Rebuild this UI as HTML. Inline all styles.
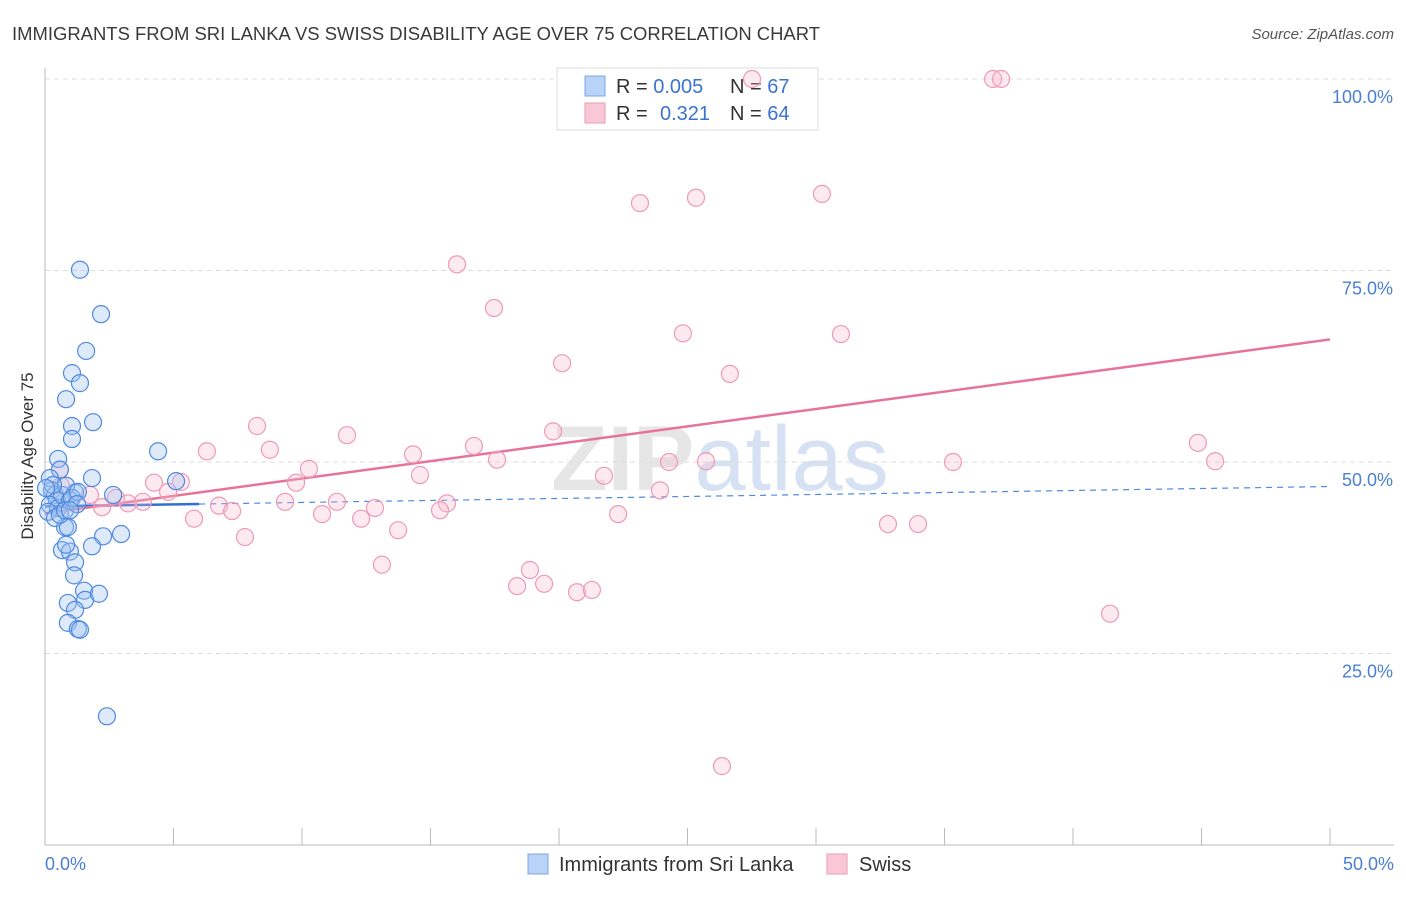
<!DOCTYPE html>
<html><head><meta charset="utf-8"><style>
body{margin:0;background:#fff;font-family:"Liberation Sans",sans-serif;}
svg text{font-family:"Liberation Sans",sans-serif;}
</style></head><body>
<svg id="chart" width="1406" height="892" xmlns="http://www.w3.org/2000/svg">
<text x="12" y="40" font-size="18" fill="#3a3a3a" textLength="808" lengthAdjust="spacingAndGlyphs">IMMIGRANTS FROM SRI LANKA VS SWISS DISABILITY AGE OVER 75 CORRELATION CHART</text>
<text x="1394" y="39" font-size="15" fill="#555" text-anchor="end" font-style="italic">Source: ZipAtlas.com</text>
<text x="720" y="490" font-size="92" fill="#e6e6e6" text-anchor="middle" font-family="Liberation Serif" font-weight="bold">ZIP<tspan fill="#d6e2f3" font-family="Liberation Sans" font-weight="normal">atlas</tspan></text>
<g id="grid"></g>
<g id="axes"></g>
<g>
<rect x="557" y="68" width="261" height="62" fill="#fff" stroke="#ddd"/>
<rect x="585" y="76" width="20" height="20" fill="#b8d3f5" stroke="#7aa8e8"/>
<rect x="585" y="103" width="20" height="20" fill="#f9c8d6" stroke="#ef9ab5"/>
<text x="616" y="93" font-size="20" fill="#333">R = <tspan fill="#3b73d1">0.005</tspan><tspan x="730">N = </tspan><tspan fill="#3b73d1">67</tspan></text>
<text x="616" y="120" font-size="20" fill="#333">R = <tspan fill="#3b73d1" x="660">0.321</tspan><tspan x="730">N = </tspan><tspan fill="#3b73d1">64</tspan></text>
</g>
<g id="trends"></g>
<g id="points"></g>
<text transform="translate(33,456) rotate(-90)" font-size="17" fill="#333" text-anchor="middle">Disability Age Over 75</text>
<text x="45" y="870" font-size="18" fill="#4a7fd4">0.0%</text>
<text x="1394" y="870" font-size="18" fill="#4a7fd4" text-anchor="end">50.0%</text>
<g>
<rect x="528" y="854" width="20" height="20" fill="#b8d3f5" stroke="#7aa8e8"/>
<text x="559" y="871" font-size="20" fill="#333">Immigrants from Sri Lanka</text>
<rect x="827" y="854" width="20" height="20" fill="#f9c8d6" stroke="#ef9ab5"/>
<text x="859" y="871" font-size="20" fill="#333">Swiss</text>
</g>
</svg>
<script>
const yTicks=[25,50,75,100];
const yTickLabels=["25.0%","50.0%","75.0%","100.0%"];
const xTicks=[0,5,10,15,20,25,30,35,40,45,50];
const blueX=[1.36,2.18,1.60,1.05,1.36,0.82,1.87,1.05,1.05,4.40,0.51,0.58,1.83,5.10,2.65,1.17,2.26,2.96,1.83,0.78,0.89,0.66,0.97,0.82,1.17,1.13,1.52,1.56,2.10,0.89,1.17,0.89,1.28,1.36,2.41,0.19,0.27,0.39,0.47,0.19,0.51,0.66,0.82,0.97,0.12,0.39,0.58,0.78,1.05,1.28,1.25,0.97,0.31,0.04];
const blueY=[75.1,69.3,64.5,61.6,60.3,58.2,55.2,54.7,53.0,51.4,50.4,49.0,47.9,47.5,45.7,46.0,40.3,40.6,39.0,41.5,41.5,38.5,38.3,39.2,36.9,35.2,33.2,32.0,32.8,31.6,30.7,29.0,28.2,28.1,16.8,47.9,46.3,45.7,45.0,44.4,44.0,45.7,46.9,45.0,43.5,42.7,43.1,43.7,45.3,46.1,44.5,43.7,47.0,46.6];
const pinkX=[36.89,37.20,27.51,23.15,25.33,30.23,16.03,17.47,24.82,30.97,20.12,26.65,8.25,11.75,19.77,16.69,6.30,8.75,14.32,17.59,24.28,25.72,35.33,44.86,45.53,10.27,14.59,21.75,9.77,4.24,5.29,4.79,0.58,0.62,1.75,2.76,3.23,3.81,2.22,6.77,7.28,9.34,11.36,12.84,15.64,15.37,10.78,12.30,5.80,13.74,7.78,22.30,23.93,32.80,33.97,13.11,18.87,18.37,19.42,20.70,21.28,41.44,26.34];
const pinkY=[100,100,100,83.8,84.5,85.0,75.8,70.1,66.8,66.7,62.9,61.5,54.7,53.5,54.0,52.1,51.4,51.6,51.0,50.3,50.0,50.1,50.0,52.5,50.1,49.1,48.3,48.2,47.3,47.3,47.4,46.1,49.0,46.9,45.7,45.3,44.6,44.8,44.1,44.3,43.6,44.8,44.8,44.0,44.6,43.7,43.2,42.6,42.6,41.1,40.2,43.2,46.3,41.9,41.9,36.6,35.9,33.8,34.1,33.0,33.3,30.2,10.3];
const blueTrend=[44.2,46.8];
const pinkTrend=[43.3,66.0];
const NS="http://www.w3.org/2000/svg";
const X0=45,X1=1330,Y0=845,YS=7.66;
function sx(v){return X0+(X1-X0)*v/50;}
function sy(v){return Y0-v*YS;}
function mk(tag,attrs,parent){const e=document.createElementNS(NS,tag);for(const k in attrs)e.setAttribute(k,attrs[k]);document.getElementById(parent).appendChild(e);return e;}
yTicks.forEach((t,i)=>{
 const l=mk('line',{x1:X0,x2:1394,y1:sy(t),y2:sy(t),stroke:'#ddd','stroke-dasharray':'5,4'},'grid');
 
 
 const tx=mk('text',{x:1393,y:sy(t)+24,'font-size':18,fill:'#4a7fd4','text-anchor':'end'},'grid');
 tx.textContent=yTickLabels[i];
 
 
});
const ax=mk('line',{x1:X0,x2:X0,y1:68,y2:Y0,stroke:'#bbb'},'axes');


const bx=mk('line',{x1:X0,x2:1394,y1:Y0,y2:Y0,stroke:'#bbb'},'axes');


xTicks.forEach(t=>{
 const l=mk('line',{x1:sx(t),x2:sx(t),y1:828,y2:Y0,stroke:'#bbb'},'axes');
 
 
});
function pts(xs,ys,fill,stroke,name){
 xs.forEach((x,i)=>{
  const c=mk('circle',{cx:sx(x),cy:sy(ys[i]),r:8.5,fill:fill,stroke:stroke,'stroke-width':1.2},'points');
  
  
 });
}
pts(pinkX,pinkY,'rgba(248,185,205,0.3)','#ee9ab5','swiss-point');
pts(blueX,blueY,'rgba(160,195,240,0.35)','#4f8ae0','sri-lanka-point');
const bt1=mk('line',{x1:sx(0),y1:sy(blueTrend[0]),x2:sx(6),y2:sy(blueTrend[0]+(blueTrend[1]-blueTrend[0])*6/50),stroke:'#2f6fd8','stroke-width':2.5},'trends');


const bt2=mk('line',{x1:sx(6),y1:sy(blueTrend[0]+(blueTrend[1]-blueTrend[0])*6/50),x2:sx(50),y2:sy(blueTrend[1]),stroke:'#4f8ae0','stroke-width':1.2,'stroke-dasharray':'6,5'},'trends');


const pt=mk('line',{x1:sx(0),y1:sy(pinkTrend[0]),x2:sx(50),y2:sy(pinkTrend[1]),stroke:'#e8739a','stroke-width':2.5},'trends');


</script>
</body></html>
